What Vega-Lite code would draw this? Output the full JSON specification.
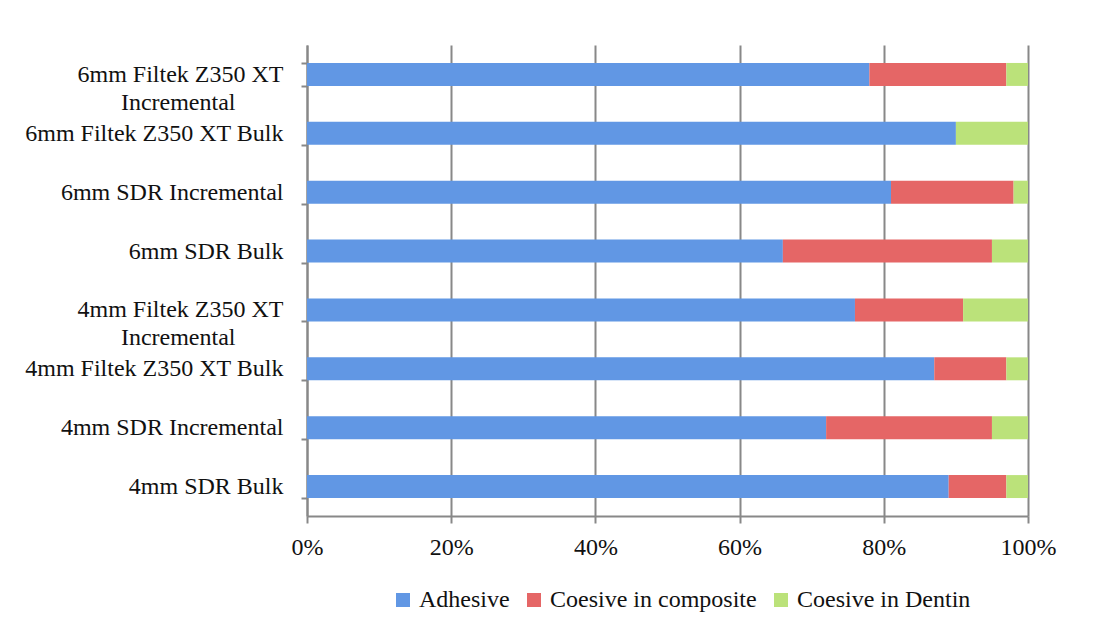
{
  "$schema": "https://vega.github.io/schema/vega-lite/v6.json",
  "width": 721,
  "height": 471,
  "autosize": {"type": "none"},
  "padding": {"left": 307, "top": 45, "right": 81, "bottom": 126},
  "background": "white",
  "data": {
    "values": [
      {"group": "6mm Filtek Z350 XT Incremental", "mode": "Adhesive", "seq": 1, "pct": 78},
      {"group": "6mm Filtek Z350 XT Incremental", "mode": "Coesive in composite", "seq": 2, "pct": 19},
      {"group": "6mm Filtek Z350 XT Incremental", "mode": "Coesive in Dentin", "seq": 3, "pct": 3},
      {"group": "6mm Filtek Z350 XT Bulk", "mode": "Adhesive", "seq": 1, "pct": 90},
      {"group": "6mm Filtek Z350 XT Bulk", "mode": "Coesive in composite", "seq": 2, "pct": 0},
      {"group": "6mm Filtek Z350 XT Bulk", "mode": "Coesive in Dentin", "seq": 3, "pct": 10},
      {"group": "6mm SDR Incremental", "mode": "Adhesive", "seq": 1, "pct": 81},
      {"group": "6mm SDR Incremental", "mode": "Coesive in composite", "seq": 2, "pct": 17},
      {"group": "6mm SDR Incremental", "mode": "Coesive in Dentin", "seq": 3, "pct": 2},
      {"group": "6mm SDR Bulk", "mode": "Adhesive", "seq": 1, "pct": 66},
      {"group": "6mm SDR Bulk", "mode": "Coesive in composite", "seq": 2, "pct": 29},
      {"group": "6mm SDR Bulk", "mode": "Coesive in Dentin", "seq": 3, "pct": 5},
      {"group": "4mm Filtek Z350 XT Incremental", "mode": "Adhesive", "seq": 1, "pct": 76},
      {"group": "4mm Filtek Z350 XT Incremental", "mode": "Coesive in composite", "seq": 2, "pct": 15},
      {"group": "4mm Filtek Z350 XT Incremental", "mode": "Coesive in Dentin", "seq": 3, "pct": 9},
      {"group": "4mm Filtek Z350 XT Bulk", "mode": "Adhesive", "seq": 1, "pct": 87},
      {"group": "4mm Filtek Z350 XT Bulk", "mode": "Coesive in composite", "seq": 2, "pct": 10},
      {"group": "4mm Filtek Z350 XT Bulk", "mode": "Coesive in Dentin", "seq": 3, "pct": 3},
      {"group": "4mm SDR Incremental", "mode": "Adhesive", "seq": 1, "pct": 72},
      {"group": "4mm SDR Incremental", "mode": "Coesive in composite", "seq": 2, "pct": 23},
      {"group": "4mm SDR Incremental", "mode": "Coesive in Dentin", "seq": 3, "pct": 5},
      {"group": "4mm SDR Bulk", "mode": "Adhesive", "seq": 1, "pct": 89},
      {"group": "4mm SDR Bulk", "mode": "Coesive in composite", "seq": 2, "pct": 8},
      {"group": "4mm SDR Bulk", "mode": "Coesive in Dentin", "seq": 3, "pct": 3}
    ]
  },
  "mark": {"type": "bar"},
  "encoding": {
    "y": {
      "field": "group",
      "type": "nominal",
      "sort": [
        "6mm Filtek Z350 XT Incremental",
        "6mm Filtek Z350 XT Bulk",
        "6mm SDR Incremental",
        "6mm SDR Bulk",
        "4mm Filtek Z350 XT Incremental",
        "4mm Filtek Z350 XT Bulk",
        "4mm SDR Incremental",
        "4mm SDR Bulk"
      ],
      "scale": {"paddingInner": 0.61, "paddingOuter": 0.305},
      "axis": {
        "title": null,
        "labelFont": "Liberation Serif",
        "labelFontSize": 24,
        "labelColor": "#111111",
        "labelPadding": 18,
        "labelLineHeight": 28,
        "labelLimit": 400,
        "labelExpr": "indexof(datum.label, 'Filtek Z350 XT Incremental') >= 0 ? [replace(datum.label, ' Incremental', ''), 'Incremental\u00a0\u00a0\u00a0\u00a0\u00a0\u00a0\u00a0\u00a0\u200b'] : datum.label",
        "encode": {
          "labels": {
            "update": {
              "dy": {"signal": "indexof(datum.value, 'Filtek Z350 XT Incremental') >= 0 ? -14 : 0"}
            }
          }
        },
        "tickBand": "extent",
        "tickSize": 6,
        "tickColor": "#888888",
        "tickWidth": 2,
        "domainColor": "#888888",
        "domainWidth": 2,
        "grid": false
      }
    },
    "x": {
      "field": "pct",
      "type": "quantitative",
      "stack": "normalize",
      "scale": {"domain": [0, 1], "nice": false},
      "axis": {
        "title": null,
        "format": ".0%",
        "values": [0, 0.2, 0.4, 0.6, 0.8, 1],
        "labelFont": "Liberation Serif",
        "labelFontSize": 24,
        "labelColor": "#111111",
        "labelPadding": 12,
        "labelFlush": false,
        "tickSize": 7,
        "tickColor": "#888888",
        "tickWidth": 2,
        "domainColor": "#888888",
        "domainWidth": 2,
        "grid": true,
        "gridColor": "#888888",
        "gridWidth": 2
      }
    },
    "color": {
      "field": "mode",
      "type": "nominal",
      "scale": {
        "domain": ["Adhesive", "Coesive in composite", "Coesive in Dentin"],
        "range": ["#6197e4", "#e56666", "#bbe27a"]
      },
      "legend": {
        "title": null,
        "orient": "none",
        "legendX": 84,
        "legendY": 543,
        "direction": "horizontal",
        "symbolType": "square",
        "symbolSize": 196,
        "symbolStrokeWidth": 0,
        "labelFont": "Liberation Serif",
        "labelFontSize": 24,
        "labelColor": "#111111",
        "labelOffset": 4,
        "labelLimit": 400,
        "columnPadding": 12
      }
    },
    "order": {"field": "seq", "type": "quantitative"}
  },
  "config": {
    "view": {"stroke": null}
  }
}
